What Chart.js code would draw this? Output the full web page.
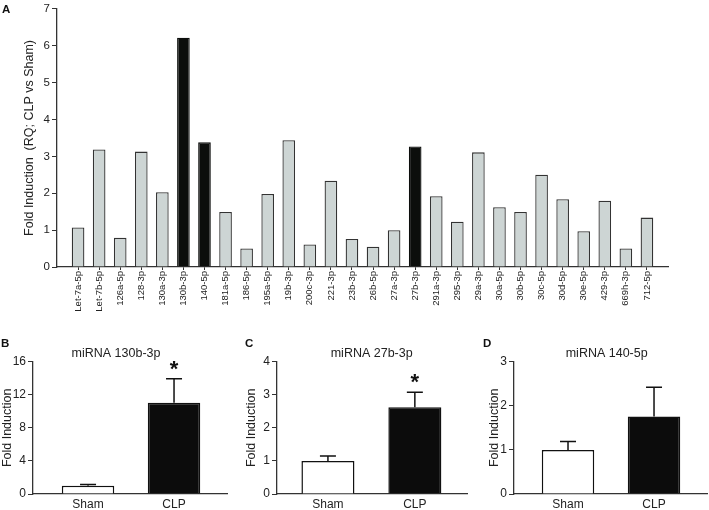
<!DOCTYPE html>
<html>
<head>
<meta charset="utf-8">
<script src="https://cdn.jsdelivr.net/npm/chart.js@4.4.1/dist/chart.umd.min.js"></script>
<style>
  body { margin: 0; background: #fff; }
  #wrap { position: relative; width: 709px; height: 510px; overflow: hidden; }
  canvas { position: absolute; }
</style>
</head>
<body>
<div id="wrap">
  <canvas id="chartA" width="709" height="330" style="left:0;top:0"></canvas>
  <canvas id="chartB" width="235" height="180" style="left:0;top:330px"></canvas>
  <canvas id="chartC" width="235" height="180" style="left:235px;top:330px"></canvas>
  <canvas id="chartD" width="239" height="180" style="left:470px;top:330px"></canvas>
</div>
<script>
// panel A data
const mirnas = ["Let-7a-5p", "Let-7b-5p", "126a-5p", "128-3p", "130a-3p", "130b-3p", "140-5p",
  "181a-5p", "186-5p", "195a-5p", "19b-3p", "200c-3p", "221-3p", "23b-3p", "26b-5p", "27a-3p",
  "27b-3p", "291a-3p", "295-3p", "29a-3p", "30a-5p", "30b-5p", "30c-5p", "30d-5p", "30e-5p",
  "429-3p", "669h-3p", "712-5p"];
const foldInduction = [1.07, 3.19, 0.79, 3.13, 2.03, 6.22, 3.38, 1.49, 0.50, 1.98, 3.44, 0.61,
  2.34, 0.76, 0.55, 1.00, 3.27, 1.92, 1.23, 3.11, 1.62, 1.49, 2.50, 1.84, 0.97, 1.80, 0.50, 1.34];
const highlighted = ["130b-3p", "140-5p", "27b-3p"];

// panels B-D data
const groups = ["Sham", "CLP"];
const mean130b = [1.0, 11.05];
const sem130b = [0.15, 2.9];
const mean27b = [1.0, 2.62];
const sem27b = [0.15, 0.46];
const mean140 = [1.0, 1.76];
const sem140 = [0.19, 0.66];

const FONT = "'Liberation Sans', Arial, sans-serif";
const TXT = "#222";
const AXIS = "#333";

// error bars (upward only) and significance stars
const errorBars = {
  id: "errorBars",
  afterDatasetsDraw(chart, args, opts) {
    if (!opts.errors) return;
    const ctx = chart.ctx;
    const y = chart.scales.y;
    const meta = chart.getDatasetMeta(0);
    const data = chart.data.datasets[0].data;
    ctx.save();
    ctx.strokeStyle = "#111";
    ctx.lineWidth = 1.5;
    meta.data.forEach((bar, i) => {
      const top = y.getPixelForValue(data[i].y + opts.errors[i]);
      ctx.beginPath();
      ctx.moveTo(bar.x, bar.y);
      ctx.lineTo(bar.x, top);
      ctx.moveTo(bar.x - 8, top);
      ctx.lineTo(bar.x + 8, top);
      ctx.stroke();
      if (opts.stars && opts.stars[i]) {
        ctx.fillStyle = "#111";
        ctx.font = "bold 22px " + FONT;
        ctx.textAlign = "center";
        ctx.textBaseline = "alphabetic";
        ctx.fillText("*", bar.x, top - 3);
      }
    });
    ctx.restore();
  }
};

// panel letter and panel title
const panelText = {
  id: "panelText",
  afterDraw(chart, args, opts) {
    const ctx = chart.ctx;
    ctx.save();
    ctx.fillStyle = "#111";
    ctx.font = "bold 11.5px " + FONT;
    ctx.textAlign = "left";
    ctx.textBaseline = "alphabetic";
    ctx.fillText(opts.letter, opts.letterX, opts.letterY);
    if (opts.title) {
      ctx.fillStyle = TXT;
      ctx.font = "12.5px " + FONT;
      ctx.textAlign = "center";
      ctx.fillText(opts.title, opts.titleX, opts.titleY);
    }
    ctx.restore();
  }
};

Chart.register(errorBars, panelText);

function yAxis(max, step, width, titlePad, tickSize) {
  return {
    min: 0, max: max,
    afterFit: s => { s.width = width; },
    border: { display: true, color: AXIS, width: 1.3 },
    grid: { drawOnChartArea: false, drawTicks: true, tickLength: 5, color: AXIS },
    ticks: { stepSize: step, padding: 2, color: TXT, font: { family: FONT, size: tickSize } },
    title: { display: true, text: "", color: TXT, padding: { top: titlePad, bottom: 0 },
      font: { family: FONT, size: 12.5 } }
  };
}

// ---- panel A ----
const yA = yAxis(7, 1, 57, 22, 11.5);
yA.title.text = "Fold Induction  (RQ; CLP vs Sham)";

new Chart(document.getElementById("chartA"), {
  type: "bar",
  data: {
    datasets: [{
      data: foldInduction.map((v, i) => ({ x: i, y: v })),
      backgroundColor: mirnas.map(m => highlighted.includes(m) ? "#0c0e0c" : "#cdd5d4"),
      borderColor: mirnas.map(m => highlighted.includes(m) ? "#0c0e0c" : "#333"),
      borderWidth: 1.3,
      barPercentage: 0.6,
      categoryPercentage: 1
    }]
  },
  options: {
    responsive: false,
    animation: false,
    layout: { padding: { top: 0, right: 41, left: 0, bottom: 0 } },
    plugins: {
      legend: { display: false },
      tooltip: { enabled: false },
      panelText: { letter: "A", letterX: 2, letterY: 13 }
    },
    scales: {
      x: {
        type: "linear", min: -1, max: mirnas.length, offset: false,
        afterFit: s => { s.height = 63; },
        afterBuildTicks: s => { s.ticks = mirnas.map((m, i) => ({ value: i })); },
        border: { display: true, color: AXIS, width: 1.3 },
        grid: { offset: false, drawOnChartArea: false, drawTicks: true, tickLength: 3, color: AXIS },
        ticks: {
          autoSkip: false, minRotation: 90, maxRotation: 90, padding: 1,
          color: TXT, font: { family: FONT, size: 9.5 },
          callback: v => mirnas[v]
        }
      },
      y: yA
    }
  }
});

// ---- panels B, C, D ----
function smallPanel(id, means, sems, max, step, o) {
  const y = yAxis(max, step, o.yWidth, o.titlePad, 12);
  y.title.text = "Fold Induction";
  y.grid.tickLength = 5;
  return new Chart(document.getElementById(id), {
    type: "bar",
    data: {
      datasets: [{
        data: means.map((v, i) => ({ x: i, y: v })),
        backgroundColor: ["#ffffff", "#0c0c0c"],
        borderColor: "#111",
        borderWidth: 1.5,
        barPercentage: 0.61,
        categoryPercentage: 1
      }]
    },
    options: {
      responsive: false,
      animation: false,
      layout: { padding: { top: 31.7, right: o.right, left: 0, bottom: 0 } },
      plugins: {
        legend: { display: false },
        tooltip: { enabled: false },
        errorBars: { errors: sems, stars: o.stars },
        panelText: { letter: o.letter, letterX: o.letterX, letterY: 17, title: o.title, titleX: o.titleX, titleY: 27 }
      },
      scales: {
        x: {
          type: "linear", min: o.xMin, max: o.xMax, offset: false,
          afterFit: s => { s.height = 16; },
          afterBuildTicks: s => { s.ticks = groups.map((g, i) => ({ value: i })); },
          border: { display: true, color: AXIS, width: 1.3 },
          grid: { offset: false, drawOnChartArea: false, drawTicks: false },
          ticks: { padding: 3, color: TXT, font: { family: FONT, size: 12 }, callback: v => groups[v] }
        },
        y: y
      }
    }
  });
}

smallPanel("chartB", mean130b, sem130b, 16, 4, {
  yWidth: 33, titlePad: 0, right: 8, xMin: -0.64, xMax: 1.616,
  stars: [false, true], letter: "B", letterX: 1, title: "miRNA 130b-3p", titleX: 116
});
smallPanel("chartC", mean27b, sem27b, 4, 1, {
  yWidth: 42, titlePad: 9.5, right: 3, xMin: -0.586, xMax: 1.6,
  stars: [false, true], letter: "C", letterX: 10, title: "miRNA 27b-3p", titleX: 136.7
});
smallPanel("chartD", mean140, sem140, 3, 1, {
  yWidth: 44, titlePad: 17.5, right: 2, xMin: -0.628, xMax: 1.616,
  stars: [false, false], letter: "D", letterX: 13, title: "miRNA 140-5p", titleX: 136.7
});
</script>
</body>
</html>
